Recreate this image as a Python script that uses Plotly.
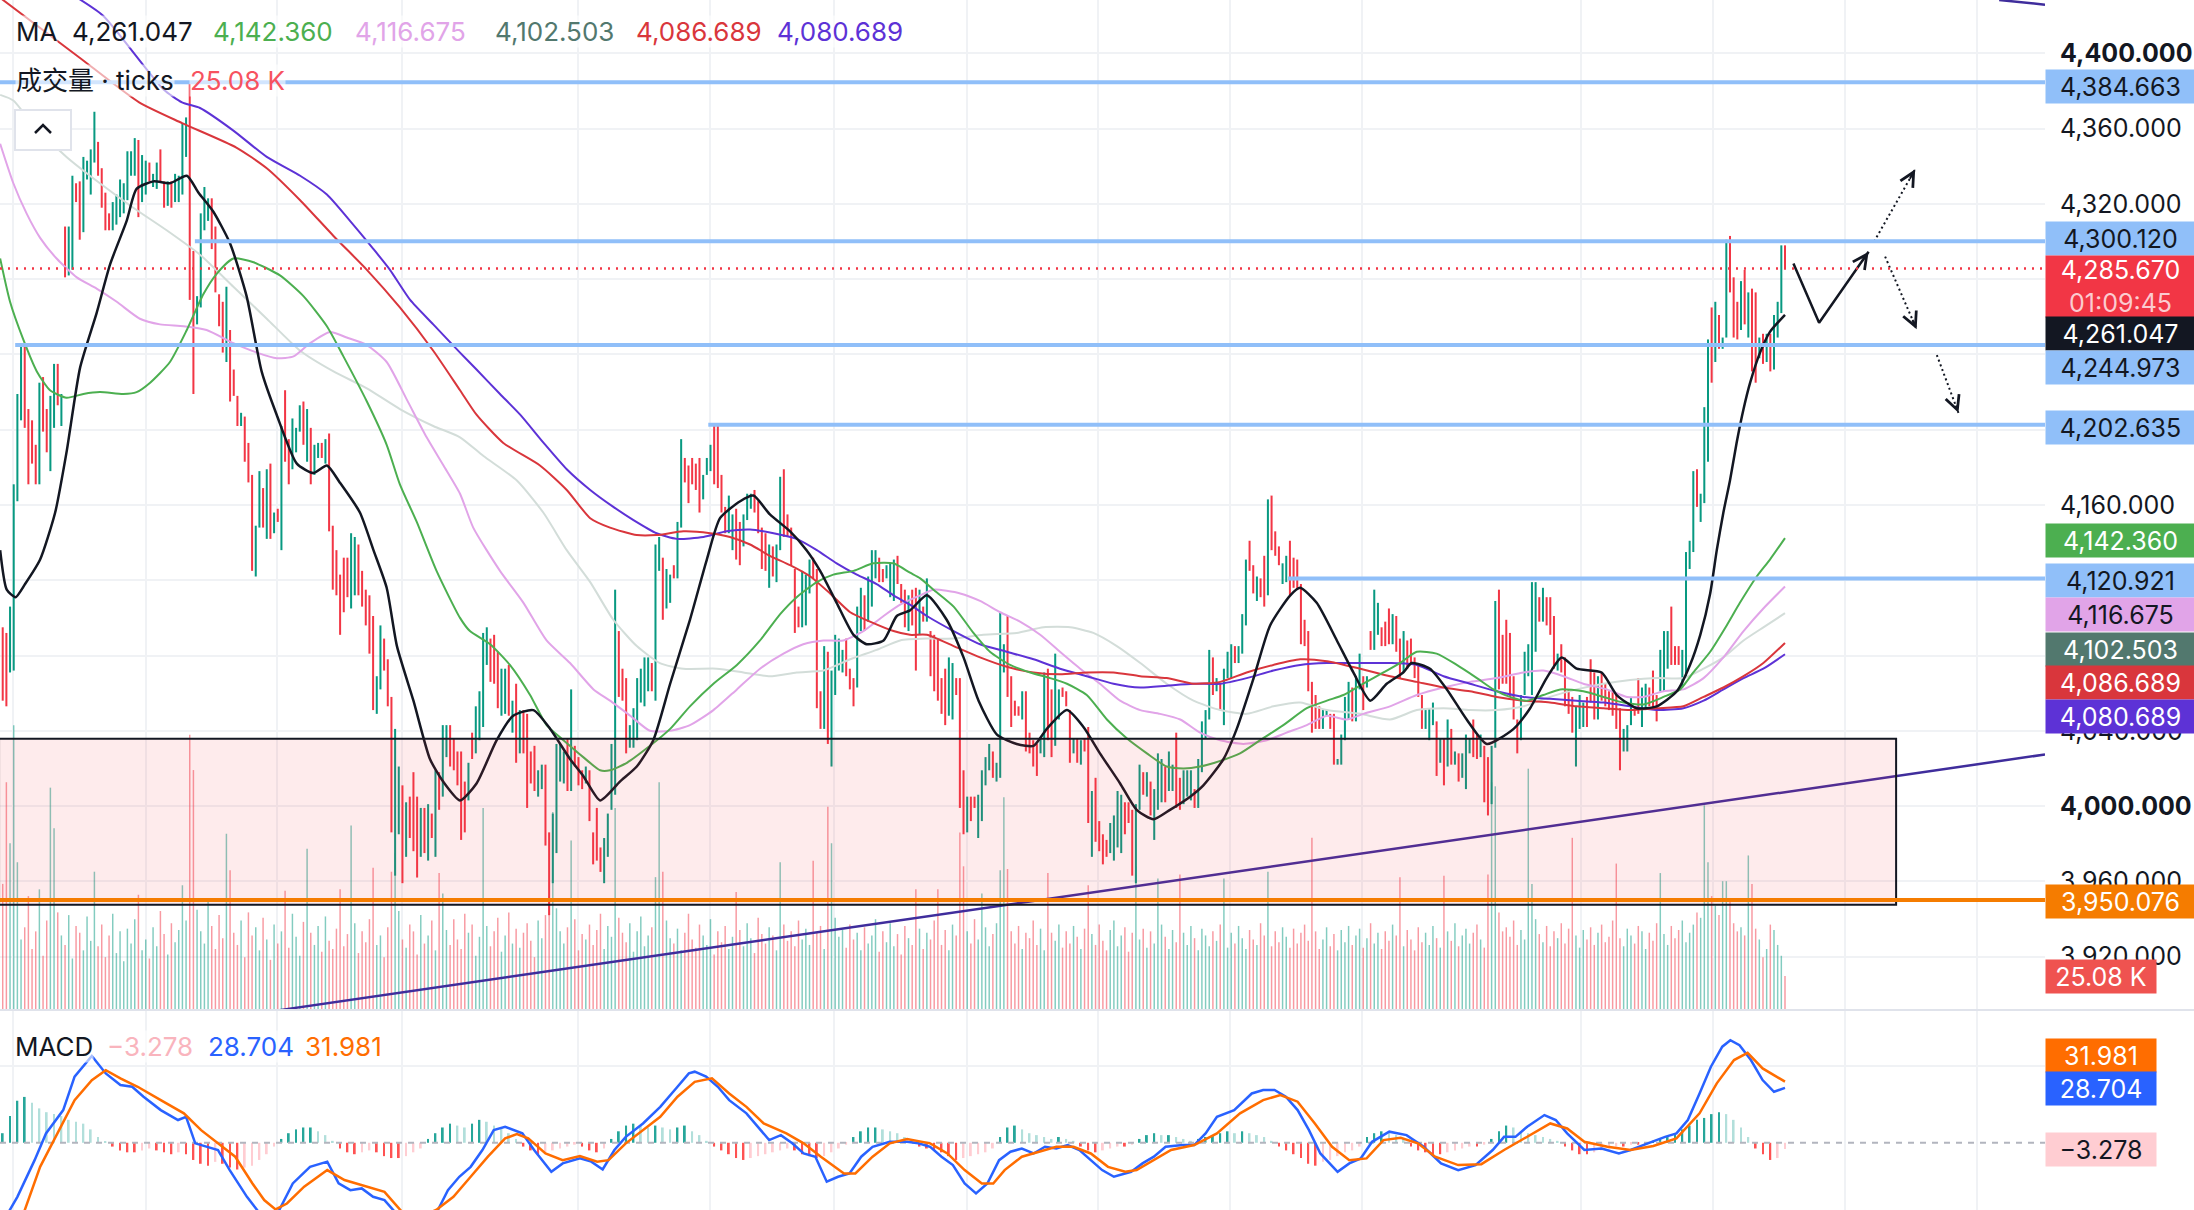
import plotly.graph_objects as go

# ---------------- candles (oldest first, one value per bar) ----------------
opens = [
    4095, 4092, 4071, 4072, 4162, 4205, 4245, 4211, 4205, 4192,
    4171, 4228, 4211, 4178, 4201, 4235, 4202, 4308, 4282, 4285,
    4331, 4332, 4305, 4333, 4325, 4342, 4353, 4339, 4326, 4315,
    4306, 4309, 4313, 4315, 4322, 4335, 4335, 4354, 4321, 4325,
    4342, 4329, 4328, 4349, 4332, 4319, 4332, 4321, 4321, 4325,
    4345, 4385, 4295, 4256, 4265, 4306, 4311, 4323, 4308, 4272,
    4268, 4236, 4253, 4232, 4218, 4202, 4207, 4193, 4176, 4122,
    4148, 4169, 4142, 4182, 4145, 4158, 4136, 4221, 4195, 4179,
    4188, 4199, 4215, 4183, 4201, 4176, 4185, 4193, 4182, 4198,
    4149, 4136, 4123, 4132, 4132, 4105, 4112, 4139, 4125, 4115,
    4112, 4101, 4049, 4062, 4089, 4078, 4058, 3963, 3985, 4011,
    3973, 4005, 4018, 4005, 3973, 3999, 3971, 3996, 3973, 4018,
    4005, 4026, 4043, 4036, 4029,
    4029, 4013, 4003, 4039, 4028, 4035, 4042, 4075, 4089, 4091,
    4082, 4048, 4049, 4075, 4039, 4065, 4028, 4051, 4049, 4029,
    4032, 4005, 4009, 4022, 3986, 3959, 3975, 4013, 4012, 4036,
    4008, 4032, 4026, 4019, 4012, 4019, 3986, 3999, 3978, 3959,
    3973, 3998, 4006, 4093, 4073, 4068, 4031, 4031, 4035, 4055,
    4053, 4061, 4076, 4056, 4125, 4132, 4105, 4108, 4128, 4121,
    4148, 4185, 4181, 4185, 4182, 4185, 4163, 4176, 4178, 4202,
    4202, 4176, 4159, 4145, 4136, 4158, 4151, 4138, 4152, 4158,
    4168, 4162, 4148, 4145, 4116, 4138, 4119, 4136, 4179, 4155,
    4148, 4126, 4106, 4095, 4096, 4113, 4132, 4126, 4061, 4041,
    4082, 4021, 4059, 4072, 4071, 4089, 4073, 4068, 4063, 4093,
    4112, 4098, 4106, 4121, 4132, 4126, 4121, 4111, 4109, 4133,
    4118, 4115, 4093,
    4115, 4116, 4091, 4106, 4098, 4093, 4091, 4089, 4068, 4073,
    4048, 4046, 4068, 4068, 4019, 3986, 4005, 4005, 3983, 3992,
    4011, 4019, 4029, 4013, 4015, 4071, 4101, 4069, 4056, 4053,
    4046, 4061, 4039, 4035, 4033, 4028, 4026, 4073, 4062, 4032,
    4046, 4063, 4061, 4051, 4028, 4036, 4022, 4036, 4042, 3973,
    4015, 3992, 3985, 3982, 3975, 3971, 3978, 3975, 4002, 4002,
    3998, 3959, 3998, 4018, 4005, 4013, 3982, 3998, 4002, 4021,
    4008, 4008, 4039, 4015, 4001, 4005, 4003, 4009, 3999, 4018,
    4036, 4046, 4079, 4061, 4065, 4043, 4068, 4068, 4085, 4076,
    4081, 4096, 4141, 4128, 4109, 4121, 4133, 4112, 4165, 4146,
    4138, 4118, 4119, 4141, 4132, 4131, 4118, 4099, 4093, 4066,
    4059, 4053, 4041, 4048, 4049, 4049, 4022, 4022, 4035, 4046,
    4063, 4045, 4062,
    4069, 4063, 4093, 4083, 4091, 4095, 4098, 4105, 4086, 4101,
    4089, 4071, 4088, 4089, 4079, 4075, 4059, 4041, 4035, 4043,
    4045, 4023, 4036, 4021, 4041, 4022, 4028, 4015, 4009, 4028,
    4046, 4038, 4026, 4032, 4026, 4001, 4031, 4115, 4091, 4099,
    4092, 4069, 4046, 4035, 4059, 4069, 4059, 4082, 4111, 4098,
    4111, 4111, 4101, 4072, 4086, 4079, 4062, 4058, 4021, 4041,
    4042, 4058, 4078, 4071, 4046, 4071, 4065, 4061, 4061, 4059,
    4052, 4029, 4029, 4043, 4053, 4068, 4042, 4051, 4063, 4072,
    4059, 4061, 4061, 4073, 4106, 4085, 4085, 4063, 4069, 4126,
    4135, 4179, 4151, 4161, 4183, 4265, 4236, 4261, 4243, 4249,
    4303, 4281, 4268, 4253, 4285, 4249, 4275, 4273, 4238, 4251,
    4236, 4251, 4232, 4249, 4262, 4298,
]
closes = [
    4056, 4053, 4106, 4171, 4219, 4245, 4201, 4171, 4182, 4171,
    4225, 4199, 4188, 4218, 4235, 4213, 4219, 4281, 4308, 4335,
    4321, 4301, 4345, 4343, 4349, 4369, 4335, 4318, 4306, 4306,
    4321, 4325, 4333, 4331, 4348, 4348, 4355, 4313, 4346, 4343,
    4332, 4336, 4342, 4332, 4318, 4332, 4318, 4336, 4335, 4363,
    4366, 4269, 4219, 4271, 4315, 4329, 4323, 4296, 4273, 4255,
    4241, 4276, 4215, 4218, 4202, 4209, 4183, 4172, 4125, 4149,
    4178, 4148, 4179, 4142, 4156, 4151, 4202, 4183, 4171, 4206,
    4201, 4213, 4192, 4211, 4171, 4192, 4193, 4185, 4195, 4146,
    4115, 4112, 4091, 4103, 4111, 4145, 4143, 4112, 4106, 4096,
    4081, 4051, 4069, 4096, 4072, 4053, 3986, 4041, 4021, 3959,
    4002, 3983, 3976, 3962, 3999, 3975, 4001, 3983, 4019, 3998,
    4043, 4043, 4021, 4019, 4011,
    3982, 3986, 4023, 4025, 4053, 4061, 4092, 4095, 4066, 4065,
    4052, 4073, 4073, 4048, 4056, 4023, 4051, 4028, 3999, 4012,
    4008, 4019, 4022, 3979, 3942, 3996, 4033, 4033, 4029, 4008,
    4062, 4021, 4011, 4009, 4021, 3992, 3969, 3971, 3965, 3983,
    3996, 4033, 4115, 4058, 4056, 4028, 4043, 4052, 4068, 4073,
    4079, 4079, 4061, 4139, 4143, 4099, 4126, 4123, 4121, 4151,
    4195, 4172, 4161, 4171, 4168, 4156, 4176, 4185, 4192, 4171,
    4169, 4156, 4145, 4165, 4155, 4131, 4128, 4155, 4166, 4166,
    4156, 4145, 4126, 4125, 4139, 4122, 4139, 4175, 4143, 4143,
    4128, 4092, 4095, 4125, 4123, 4131, 4121, 4052, 4041, 4085,
    4033, 4072, 4091, 4089, 4083, 4069, 4062, 4053, 4106, 4116,
    4093, 4122, 4136, 4136, 4119, 4119, 4128, 4129, 4131, 4118,
    4108, 4095, 4112,
    4096, 4072, 4115, 4098, 4121, 4069, 4061, 4056, 4049, 4043,
    4079, 4076, 4059, 3999, 3985, 4005, 3992, 3999, 4006, 4019,
    4026, 4033, 4015, 4023, 4103, 4086, 4058, 4042, 4048, 4048,
    4061, 4029, 4028, 4021, 4016, 4036, 4071, 4035, 4026, 4081,
    4062, 4058, 4053, 4023, 4036, 4023, 4035, 4029, 3991, 4008,
    3981, 3976, 3969, 3973, 3991, 3995, 4008, 4006, 3985, 3991,
    3963, 4001, 4022, 4006, 4018, 3995, 4009, 4028, 4025, 4002,
    4029, 4022, 3999, 3998, 4019, 4019, 4019, 3999, 4025, 4045,
    4051, 4083, 4059, 4068, 4051, 4073, 4082, 4086, 4076, 4085,
    4102, 4131, 4125, 4113, 4122, 4111, 4106, 4163, 4136, 4133,
    4128, 4129, 4133, 4112, 4116, 4115, 4086, 4085, 4061, 4039,
    4041, 4041, 4051, 4051, 4041, 4022, 4025, 4038, 4058, 4066,
    4045, 4069, 4081,
    4051, 4069, 4083, 4115, 4108, 4085, 4085, 4086, 4102, 4082,
    4068, 4093, 4073, 4076, 4068, 4058, 4041, 4051, 4052, 4055,
    4016, 4036, 4011, 4046, 4022, 4029, 4013, 4028, 4038, 4036,
    4026, 4025, 4038, 4002, 3995, 4032, 4109, 4062, 4065, 4065,
    4058, 4046, 4028, 4059, 4082, 4086, 4119, 4119, 4098, 4116,
    4096, 4091, 4073, 4081, 4071, 4053, 4049, 4039, 4053, 4059,
    4055, 4042, 4055, 4046, 4069, 4056, 4053, 4051, 4048, 4041,
    4019, 4041, 4043, 4058, 4048, 4049, 4063, 4065, 4053, 4052,
    4045, 4083, 4093, 4093, 4075, 4075, 4075, 4083, 4135, 4141,
    4178, 4159, 4166, 4212, 4248, 4225, 4268, 4243, 4249, 4301,
    4273, 4249, 4248, 4279, 4256, 4273, 4231, 4225, 4249, 4235,
    4251, 4231, 4261, 4268, 4298, 4285.67,
]
# volume per bar, thousands of ticks
volumes_k = [
    93, 168, 123, 210, 109, 52, 61, 84, 45, 58,
    89, 40, 66, 164, 134, 72, 55, 48, 70, 38,
    62, 57, 44, 69, 51, 102, 47, 63, 39, 55,
    71, 42, 58, 36, 60, 49, 67, 85, 44, 52,
    38, 61, 47, 73, 56, 41, 64, 50, 59, 92,
    66, 203, 177, 74, 58, 49, 81, 62, 45, 70,
    53, 130, 103, 57, 48, 66, 39, 72, 55, 61,
    44, 68, 52, 37, 63, 49, 58, 88, 46, 71,
    54, 40, 65, 119, 57, 48, 62, 43, 69, 51,
    45, 60, 89, 47, 56, 136, 64, 42, 58, 50,
    67, 105, 48, 55, 39, 61, 102, 116, 73, 52,
    46, 63, 58, 41, 70, 49, 55, 66, 44, 101,
    86, 59, 48, 67, 52, 45, 71, 57, 63, 40,
    54, 149, 62, 47, 58, 68, 43, 55, 72, 49,
    60, 46, 57, 64, 51, 39, 66, 53, 70, 84,
    146, 75, 58, 49, 61, 125, 67, 44, 56, 52,
    63, 48, 59, 71, 45, 62, 54, 149, 68, 57,
    50, 64, 43, 58, 69, 47, 55, 61, 98, 168,
    102, 66, 53, 49, 60, 44, 57, 71, 52, 46,
    63, 55, 48, 67, 41, 58, 50, 62, 45, 54,
    87, 59, 47, 64, 53, 42, 68, 56, 49, 61,
    55, 44, 109, 63, 51, 58, 47, 66, 52, 60,
    48, 110, 57, 62, 45, 150, 123, 68, 54, 59,
    46, 63, 52, 57, 44, 61, 49, 55, 67, 43,
    58, 50, 64, 47, 56, 41, 62, 53, 48, 89,
    60, 45, 57, 52, 66, 89, 48, 59, 44, 63,
    55, 131, 106, 58, 49, 67, 52, 86, 61, 47,
    56, 64, 103, 157, 104, 58, 49, 62, 45, 57,
    53, 66, 48, 60, 44, 101, 57, 51, 63, 46,
    58, 49, 62, 54, 45, 60, 92, 56, 48, 63,
    51, 44, 59, 66, 47, 55, 61, 43, 57, 106,
    52, 60, 46, 58, 49, 97, 63, 54, 45, 59,
    50, 100, 57, 48, 62, 53, 44, 60, 55, 47,
    58, 51, 63, 97, 46, 57, 49, 62, 53, 45,
    59, 52, 48, 64, 55, 102, 47, 58, 50, 61,
    54, 46, 60, 49, 57, 63, 51, 127, 58, 45,
    52, 61, 47, 56, 44, 59, 50, 62, 48, 55,
    60, 46, 53, 64, 49, 57, 45, 58, 51, 63,
    55, 98, 47, 59, 52, 44, 61, 50, 57, 48,
    62, 53, 46, 99, 58, 51, 64, 47, 55, 60,
    49, 57, 63, 52, 46, 100, 168, 165, 72, 58,
    61, 54, 66, 48, 59, 52, 178, 93, 67, 56,
    50, 62, 47, 58, 53, 64, 49, 60, 127, 55,
    46, 59, 52, 61, 48, 57, 63, 50, 54, 66,
    108, 53, 47, 60, 55, 49, 62, 58, 45, 57,
    51, 64, 101, 56, 48, 62, 53, 59, 66, 50,
    57, 63, 72, 68, 151, 109, 84, 77, 70, 95,
    95, 82, 64, 58, 61, 55, 114, 93, 60, 52,
    39, 45, 63, 59, 48, 40, 25.08,
]

# ---------------- moving averages (bar index, value) ----------------
ma_black_x = [-0.7, 1.1, 3.5, 6.1, 10.2, 14.3, 17.4, 21.1, 25.6, 29.3,
              33.8, 36.5, 41.1, 45.6, 50.2, 53.4, 57.4, 62.0, 66.5, 70.6,
              74.7, 80.2, 84.7, 88.4, 91.9, 97.4, 101.1, 104.7, 107.5, 112.0,
              116.5, 120.1, 124.7, 129.2, 134.7, 139.2, 144.7, 149.3, 154.7, 158.3,
              162.9, 168.3, 172.9, 177.4, 182.0, 187.4, 192.0, 195.6, 201.1, 204.7,
              209.2, 214.7, 219.2, 222.9, 227.4, 232.0, 235.6, 240.2, 243.8, 247.4,
              252.0, 257.4, 262.0, 266.1, 271.1, 276.5, 281.1, 284.7, 290.2, 294.7,
              299.2, 304.7, 309.2, 313.8, 318.3, 323.8, 327.4, 332.9, 336.5, 341.1,
              345.6, 351.1, 353.8, 358.3, 363.8, 368.3, 372.9, 377.4, 381.9, 384.2,
              389.2, 393.8, 399.2, 404.7, 412.0, 416.5, 421.0, 425.1, 429.2, 436.0,
              440.1, 445.6, 451.0, 456.5, 460.1, 462.9, 465.6, 467.4, 469.2, 471.0,
              472.8, 474.7, 476.5, 479.2, 481.9, 486]
ma_black_y = [4136, 4115, 4111, 4118, 4131, 4156, 4188, 4233, 4262, 4288,
              4311, 4328, 4332, 4331, 4335, 4326, 4316, 4299, 4271, 4231,
              4208, 4182, 4177, 4181, 4172, 4156, 4136, 4116, 4085, 4056,
              4025, 4013, 4003, 4012, 4035, 4048, 4051, 4041, 4025, 4016,
              4003, 4013, 4021, 4035, 4065, 4099, 4131, 4153, 4162, 4165,
              4155, 4146, 4136, 4125, 4108, 4091, 4086, 4088, 4101, 4104,
              4112, 4099, 4079, 4056, 4038, 4033, 4032, 4041, 4051, 4042,
              4028, 4012, 3998, 3993, 3998, 4005, 4011, 4025, 4041, 4068,
              4096, 4112, 4116, 4108, 4088, 4071, 4056, 4065, 4071, 4076,
              4073, 4062, 4046, 4033, 4041, 4052, 4068, 4079, 4073, 4071,
              4059, 4052, 4053, 4061, 4075, 4091, 4113, 4136, 4156, 4173,
              4193, 4211, 4225, 4241, 4252, 4261.047]

ma_green_x = [-0.7, 2.0, 5.6, 9.3, 12.9, 17.4, 22.0, 26.5, 32.9, 36.5,
              40.2, 45.6, 50.2, 54.7, 58.4, 62.9, 68.4, 75.6, 82.0, 88.4,
              92.9, 99.3, 104.7, 108.3, 112.9, 118.3, 124.7, 127.4, 132.9, 138.3,
              143.8, 148.3, 152.9, 158.3, 162.9, 165.6, 170.2, 176.5, 182.0, 187.4,
              193.8, 200.2, 206.5, 212.0, 216.5, 222.0, 226.5, 232.0, 237.4, 242.9,
              247.4, 250.2, 253.8, 259.3, 264.7, 269.2, 274.7, 280.2, 285.6, 290.2,
              295.6, 301.1, 306.5, 312.0, 317.4, 322.0, 326.5, 332.0, 337.4, 342.9,
              349.2, 355.6, 361.1, 365.6, 371.0, 376.5, 381.0, 385.6, 391.0, 396.5,
              402.0, 406.5, 411.0, 415.6, 420.1, 424.7, 431.0, 436.5, 442.0, 447.4,
              452.9, 457.4, 461.0, 465.6, 470.1, 473.7, 478.3, 481.9, 486]
ma_green_y = [4291, 4268, 4248, 4231, 4221, 4217, 4219, 4220, 4219, 4220,
              4225, 4236, 4253, 4272, 4283, 4291, 4289, 4282, 4271, 4255,
              4239, 4215, 4192, 4171, 4151, 4125, 4100, 4093, 4086, 4075,
              4059, 4043, 4035, 4026, 4019, 4019, 4023, 4032, 4041, 4053,
              4065, 4075, 4088, 4102, 4111, 4119, 4123, 4125, 4129, 4129,
              4124, 4121, 4115, 4106, 4092, 4082, 4075, 4071, 4068, 4065,
              4059, 4046, 4036, 4028, 4021, 4020, 4021, 4024, 4028, 4035,
              4043, 4052, 4056, 4059, 4065, 4071, 4076, 4082, 4081, 4075,
              4068, 4062, 4058, 4056, 4059, 4062, 4061, 4058, 4055, 4054,
              4058, 4062, 4071, 4082, 4096, 4108, 4122, 4131, 4142.36]

ma_pink_x = [-0.7, 2.9, 6.5, 10.2, 14.7, 20.2, 25.6, 31.1, 37.4, 42.9,
             49.3, 55.6, 62.9, 69.3, 74.7, 79.3, 83.8, 89.3, 93.8, 99.3,
             104.7, 110.2, 115.6, 120.2, 124.7, 128.3, 135.6, 142.0, 148.3, 154.7,
             161.1, 165.6, 171.1, 176.5, 182.0, 187.4, 193.8, 200.2, 206.5, 212.9,
             218.3, 223.8, 229.2, 234.7, 240.2, 244.7, 250.2, 253.8, 261.1, 266.5,
             272.0, 277.4, 282.9, 288.3, 293.8, 299.2, 304.7, 310.2, 315.6, 321.1,
             326.5, 332.0, 338.3, 344.7, 350.1, 355.6, 361.1, 366.5, 371.0, 378.3,
             385.6, 392.9, 400.1, 407.4, 414.7, 420.1, 425.6, 431.0, 437.4, 442.9,
             447.4, 452.9, 458.3, 463.8, 469.2, 474.7, 480.1, 486]
ma_pink_y = [4352, 4331, 4315, 4302, 4291, 4281, 4275, 4268, 4259, 4256,
             4255, 4253, 4246, 4241, 4238, 4239, 4246, 4252, 4249, 4245,
             4236, 4216, 4196, 4181, 4166, 4148, 4125, 4108, 4088, 4076,
             4062, 4056, 4048, 4040, 4040, 4043, 4051, 4062, 4073, 4081,
             4086, 4088, 4088, 4093, 4101, 4107, 4112, 4115, 4113, 4109,
             4103, 4098, 4091, 4082, 4073, 4065, 4056, 4051, 4049, 4046,
             4039, 4035, 4033, 4035, 4039, 4043, 4048, 4046, 4049, 4053,
             4059, 4063, 4066, 4068, 4071, 4072, 4069, 4065, 4062, 4058,
             4058, 4061, 4062, 4068, 4079, 4093, 4105, 4116.675]

ma_gray_x = [-0.7, 2.9, 8.3, 17.4, 26.5, 35.6, 44.7, 53.8, 62.9, 72.0,
             81.1, 90.2, 99.3, 108.3, 117.4, 124.7, 131.1, 140.2, 147.4, 153.8,
             160.2, 166.5, 172.9, 179.2, 185.6, 194.7, 202.0, 209.2, 216.5, 223.8,
             231.1, 238.3, 244.7, 252.0, 259.3, 267.4, 276.5, 283.8, 291.1, 297.4,
             303.8, 310.2, 317.4, 324.7, 332.0, 339.2, 346.5, 353.8, 361.1, 370.2,
             378.3, 385.6, 392.9, 400.1, 407.4, 414.7, 421.9, 429.2, 436.5, 443.8,
             451.0, 458.3, 463.8, 469.2, 474.7, 480.1, 486]
ma_gray_y = [4378, 4375, 4362, 4345, 4331, 4318, 4306, 4293, 4276, 4259,
             4242, 4231, 4222, 4211, 4202, 4196, 4186, 4173, 4156, 4136,
             4119, 4099, 4085, 4076, 4073, 4073, 4071, 4069, 4071, 4072,
             4078, 4083, 4088, 4089, 4089, 4091, 4092, 4095, 4095, 4092,
             4085, 4076, 4065, 4056, 4051, 4049, 4053, 4055, 4051, 4049,
             4046, 4051, 4052, 4051, 4051, 4053, 4058, 4062, 4065, 4067,
             4068, 4068, 4073, 4079, 4088, 4095, 4102.503]

ma_red_x = [-1, 20.8, 37.2, 48.9, 63.7, 72.0, 81.1, 90.2, 99.3, 108.3,
            117.4, 124.7, 129.2, 136.5, 146.5, 153.8, 160.2, 165.6, 172.9, 178.3,
            185.6, 192.9, 198.3, 203.8, 209.2, 214.7, 220.2, 225.6, 231.1, 236.5,
            242.9, 247.4, 252.0, 259.3, 266.5, 273.8, 281.1, 288.3, 295.6, 302.9,
            310.2, 317.4, 324.7, 332.0, 339.2, 346.5, 353.8, 361.1, 370.2, 378.3,
            385.6, 392.9, 400.1, 407.4, 414.7, 421.9, 429.2, 436.5, 443.8, 451.0,
            458.3, 463.8, 469.2, 474.7, 480.1, 486]
ma_red_y = [4430, 4398, 4374, 4363, 4350, 4339, 4322, 4303, 4285, 4265,
            4242, 4221, 4208, 4193, 4181, 4168, 4153, 4148, 4144, 4144,
            4146, 4145, 4143, 4139, 4133, 4128, 4122, 4113, 4103, 4098,
            4093, 4091, 4091, 4085, 4079, 4074, 4071, 4070, 4071, 4071,
            4069, 4068, 4065, 4066, 4071, 4075, 4078, 4077, 4073, 4069,
            4066, 4063, 4061, 4058, 4056, 4055, 4053, 4052, 4051, 4052,
            4053, 4058, 4063, 4069, 4076, 4086.689]

ma_purple_x = [20, 27.4, 43.8, 48.9, 53.8, 62.9, 72.0, 81.1, 88.4, 94.7,
               101.1, 105.6, 111.1, 117.4, 124.7, 129.2, 135.6, 141.1, 147.5, 153.8,
               160.2, 166.5, 172.0, 178.3, 183.8, 191.1, 197.4, 203.8, 210.2, 216.5,
               222.0, 227.4, 232.9, 238.3, 242.9, 247.4, 252.0, 259.3, 266.5, 273.8,
               281.1, 288.3, 295.6, 302.9, 310.2, 317.4, 324.7, 332.0, 339.2, 346.5,
               353.8, 361.1, 370.2, 378.3, 385.6, 392.9, 400.1, 407.4, 414.7, 421.9,
               429.2, 436.5, 443.8, 451.0, 458.3, 463.8, 469.2, 474.7, 480.1, 486]
ma_purple_y = [4430, 4420, 4381, 4374, 4371, 4359, 4345, 4335, 4325, 4311,
               4296, 4285, 4269, 4256, 4241, 4232, 4219, 4208, 4193, 4179,
               4168, 4159, 4152, 4145, 4142, 4143, 4146, 4147, 4145, 4142,
               4136, 4129, 4123, 4118, 4112, 4107, 4101, 4093, 4086, 4082,
               4078, 4073, 4069, 4065, 4063, 4064, 4065, 4065, 4068, 4072,
               4075, 4076, 4076, 4076, 4075, 4069, 4065, 4061, 4058, 4057,
               4056, 4055, 4053, 4051, 4052, 4056, 4062, 4068, 4073, 4080.689]

# ---------------- MACD ----------------
macd_x = [-0.7, 4.0, 8.7, 11.8, 16.5, 19.6, 24.3, 28.1, 32.1, 35.3,
          38.4, 43.1, 47.8, 50.0, 52.5, 55.6, 58.7, 61.9, 66.6, 69.7,
          74.4, 79.1, 83.8, 88.5, 91.6, 94.8, 97.9, 101.0, 104.1, 107.3,
          113.5, 118.2, 121.4, 124.5, 127.6, 130.8, 133.9, 137.0, 141.7, 144.9,
          149.6, 152.7, 157.4, 160.5, 163.6, 166.8, 169.9, 174.6, 179.3, 184.0,
          187.1, 188.7, 191.8, 195.0, 198.1, 202.8, 205.9, 209.0, 212.2, 215.3,
          218.4, 221.6, 224.7, 227.8, 230.9, 234.1, 237.2, 241.9, 246.6, 249.7,
          252.9, 256.0, 259.1, 262.3, 265.4, 268.5, 271.7, 274.8, 277.9, 281.1,
          284.2, 287.3, 290.4, 293.6, 296.7, 299.8, 303.0, 307.7, 310.8, 313.9,
          317.1, 321.8, 324.9, 328.0, 331.1, 335.8, 340.6, 343.7, 346.8, 349.9,
          353.1, 356.2, 359.3, 364.0, 367.2, 370.3, 373.4, 378.1, 382.8, 387.5,
          392.2, 396.9, 401.6, 406.3, 409.4, 412.5, 415.7, 420.4, 423.5, 426.6,
          431.3, 436.0, 440.7, 443.9, 448.6, 453.3, 456.4, 459.5, 462.7, 465.8,
          468.9, 471.1, 473.6, 476.7, 479.9, 483.0, 486]
macd_y = [-44, -28.3, -9.1, 4.9, 17.1, 34.6, 45.4, 36.3, 30.2, 29.3,
          24.1, 17.1, 11.9, 13.6, -0.3, -2.1, -3.8, -14.3, -28.3, -36,
          -39, -21.3, -12.6, -9.9, -21.3, -24.8, -23.9, -28.3, -30, -37,
          -42, -37, -24.8, -17.8, -12.6, -3.8, 6.6, 8.4, 4.9, -3.8,
          -15.2, -10.8, -8.2, -9.9, -14, -3.8, 3.1, 10.1, 18.8, 29.3,
          36.3, 37.2, 34.6, 29.3, 22.3, 15.4, 8.4, 1.4, 4.0, -0.3,
          -5.6, -7.3, -20.4, -17.8, -16.1, -7.3, -2.1, 0.5, 0.5, -0.3,
          -2.1, -7.3, -11.7, -21.3, -26.5, -21.3, -9.1, -4.7, -3.0, -5.6,
          -2.1, -3.0, -1.2, -3.8, -9.1, -14.3, -17.8, -15.2, -10.8, -7.3,
          -2.1, -1.2, -1.2, 4.9, 13.6, 17.1, 25.8, 27.6, 27.6, 24.1,
          17.1, 6.6, -5.6, -15.2, -10.8, -8.2, 0.5, 5.8, 4.0, -2.1,
          -10.8, -14.3, -11.7, -3.8, 3.1, 3.1, 8.4, 14.5, 11.9, 4.9,
          -3.8, -3.0, -5.6, -3.8, -0.3, 3.1, 4.9, 11.9, 25.8, 39.8,
          50.3, 53.7, 51.1, 43.3, 32.8, 26.7, 28.704]
signal_x = [0, 5.5, 10.2, 14.9, 19.6, 24.3, 28.1, 32.1, 36.8, 43.1,
            49.4, 54.1, 58.7, 63.4, 68.1, 71.3, 74.4, 77.5, 82.2, 88.5,
            93.2, 97.9, 104.1, 108.8, 113.5, 118.2, 122.9, 127.6, 132.3, 137.0,
            140.2, 143.3, 148.0, 152.7, 157.4, 162.1, 165.2, 169.9, 174.6, 179.3,
            184.0, 188.7, 193.4, 198.1, 202.8, 207.5, 213.7, 218.4, 223.1, 229.4,
            232.5, 237.2, 241.9, 246.6, 252.9, 257.6, 262.3, 267.0, 270.1, 273.2,
            277.9, 282.6, 287.3, 292.0, 296.7, 301.4, 306.1, 309.2, 313.9, 318.6,
            324.9, 331.1, 337.4, 343.7, 348.4, 353.1, 357.8, 362.5, 367.2, 371.9,
            376.5, 381.2, 385.9, 390.6, 396.9, 403.2, 409.4, 415.7, 422.0, 426.6,
            431.3, 437.6, 443.9, 450.1, 456.4, 462.7, 467.4, 472.1, 475.8, 479.9,
            486]
signal_y = [-50, -38, -12.6, 4.9, 22.3, 32.8, 38.0, 33.7, 29.3, 22.3,
            15.4, 6.6, -0.3, -7.3, -21.3, -30, -34.9, -31.8, -23, -14.3,
            -19.5, -22.2, -25.7, -36, -38.7, -35.2, -28.3, -17.8, -7.3, 2.3,
            4.5, 2.3, -5.6, -9.1, -7.0, -9.9, -9.1, -0.3, 6.6, 13.6,
            24.1, 31.9, 33.7, 25.8, 18.8, 10.1, 4.9, -0.3, -7.3, -16.1,
            -16.1, -7.3, -0.3, 1.9, -0.3, -5.6, -14.3, -21.3, -21.3, -14.3,
            -7.3, -4.7, -2.1, -2.1, -5.6, -12.6, -15.2, -14.3, -9.1, -3.8,
            -1.2, 4.9, 15.4, 22.3, 25.0, 21.5, 10.1, -2.1, -9.1, -8.2,
            1.4, 2.6, -0.3, -7.3, -11.7, -11.2, -3.8, 3.1, 10.1, 7.5,
            0.5, -2.1, -3.8, -1.7, 2.3, 15.4, 31.1, 43.3, 47.1, 38.9,
            31.981]
# histogram, every second bar
hist_x = list(range(0, 487, 2))
hist_y = [5, 14, 22, 24, 21, 18, 16, 15, 14, 12, 11, 10, 7, 3, 0.5,
          -2, -4, -5, -5, -4, -3, -4, -5, -6, -5, -6, -9, -11, -12, -10, -11, -13, -14, -13, -12, -9, -6, -2,
          2, 5, 7, 8, 8, 6, 4, 1,
          -3, -5, -6, -5, -4, -5, -7, -8, -8, -7, -5, -3,
          2, 5, 8, 10, 9, 8, 10, 12, 11, 9, 8, 5, 2,
          -2, -4, -6, -5, -4, -3, -2, -1, -2, -4, -5, -3,
          2, 6, 9, 10, 9, 8, 9, 8, 7, 8, 9, 6, 4, 1,
          -2, -4, -6, -8, -9, -8, -7, -6, -5, -4, -3, -4, -6, -7, -8, -7, -5, -3, -1,
          3, 6, 8, 8, 7, 6, 5, 3, 1,
          -2, -3, -4, -5, -7, -9, -8, -7, -6, -5, -3,
          3, 8, 9, 7, 5, 4, 3, 2, 3, 2, 1,
          -2, -4, -5, -4, -3, -2, -2, -1,
          2, 4, 5, 4, 4, 3, 2, 1, 2, 3, 4, 5, 6, 5, 6, 5, 4, 3, 1,
          -2, -4, -6, -8, -11, -12, -10, -9, -7, -5, -4, -2,
          3, 5, 6, 5, 4, 2,
          -2, -4, -5, -6, -6, -5, -4, -3, -2, -2, -1,
          2, 6, 9, 8, 6, 5, 4, 3, 2, 1,
          -2, -4, -6, -6, -5, -4, -3, -2, -2, -1, -1, -1,
          1, 2, 3, 5, 7, 9, 12, 13, 15, 16, 15, 12, 8, 3,
          -3, -6, -9, -8, -3.278]

# ---------------- drawings ----------------
level_prices = [4384.663, 4300.120, 4244.973, 4202.635, 4120.921]
level_starts = [-1, 52.4, 3.4, 192.4, 350.5]
last_price = 4285.670
support_price = 3950.076
zone_top, zone_bottom, zone_end = 4035.7, 3947.6, 516.3
trend_x, trend_y = [75, 556.9], [3891.4, 4027.4]
trend2_x, trend2_y = [544.4, 556.9], [4428.4, 4425.9]
path_x, path_y = [488.3, 495.3, 508.8], [4288.4, 4256.9, 4294.6]
up_x, up_y = [510.3, 521.5], [4300.0, 4338.4]
down1_x, down1_y = [513.3, 521.9], [4292.0, 4253.4]
down2_x, down2_y = [527.4, 533.3], [4239.7, 4209.0]
grid_x = [2.8, 39.1, 74.8, 108.9, 156.9, 192.9, 226.7, 263.0, 298.7, 334.7,
          370.7, 430.4, 466.4, 502.4, 538.4]
# price labels left visible by the axis boxes
shown_ticks = [4400, 4360, 4320, 4160, 4040, 4000, 3960, 3920]

UP, DOWN = "#089981", "#f23645"
FONT = "Inter, 'Noto Sans CJK SC', sans-serif"
INK = "#131722"
GRID = "#f0f2f5"
W, H, AXW = 2194, 1210, 149
PW = W - AXW
SPLIT = 200 / H
XR = [-0.74, 556.9]

idx = list(range(len(closes)))
bar_colors = [UP if c >= o else DOWN for o, c in zip(opens, closes)]
vol_colors = ["rgba(8,153,129,0.5)" if c >= o else "rgba(242,54,69,0.5)"
              for o, c in zip(opens, closes)]

fig = go.Figure()

# volume on the base axis (drawn first, behind the price)
fig.add_trace(go.Bar(x=idx, y=[v * 1000 for v in volumes_k], width=0.4,
                     marker=dict(color=vol_colors, line_width=0),
                     xaxis="x", yaxis="y", hoverinfo="skip"))

# candles
fig.add_trace(go.Bar(x=idx, y=[c - o for o, c in zip(opens, closes)], base=opens,
                     width=0.55, marker=dict(color=bar_colors, line_width=0),
                     xaxis="x", yaxis="y3", hoverinfo="skip"))

for xs, ys, col, w in [
    (ma_gray_x, ma_gray_y, "#d3ddd9", 2),
    (ma_pink_x, ma_pink_y, "#e1a4e8", 2),
    (ma_purple_x, ma_purple_y, "#5d32d6", 2),
    (ma_red_x, ma_red_y, "#d9363c", 2),
    (ma_green_x, ma_green_y, "#4caf50", 2),
    (ma_black_x, ma_black_y, INK, 2.5),
]:
    fig.add_trace(go.Scatter(x=xs, y=ys, mode="lines", xaxis="x", yaxis="y3",
                             line=dict(color=col, width=w, shape="spline", smoothing=0.6),
                             hoverinfo="skip"))

# trend lines and projection drawings
fig.add_trace(go.Scatter(x=trend_x, y=trend_y, mode="lines", xaxis="x", yaxis="y3",
                         line=dict(color="#3f2d9c", width=2.5), hoverinfo="skip"))
fig.add_trace(go.Scatter(x=trend2_x, y=trend2_y, mode="lines", xaxis="x", yaxis="y3",
                         line=dict(color="#3f2d9c", width=2.5), hoverinfo="skip"))
fig.add_trace(go.Scatter(x=path_x, y=path_y, mode="lines", xaxis="x", yaxis="y3",
                         line=dict(color=INK, width=2.5), hoverinfo="skip"))
for xs, ys in [(up_x, up_y), (down1_x, down1_y), (down2_x, down2_y)]:
    fig.add_trace(go.Scatter(x=xs, y=ys, mode="lines", xaxis="x", yaxis="y3",
                             line=dict(color=INK, width=2, dash="2px,3px"), hoverinfo="skip"))

# MACD
hist_colors = []
prev = 0
for v in hist_y:
    if v >= 0:
        hist_colors.append("#26a69a" if v >= prev else "#b2dfdb")
    else:
        hist_colors.append("#ff5252" if v <= prev else "#ffcdd2")
    prev = v
fig.add_trace(go.Bar(x=hist_x, y=hist_y, width=0.5, marker=dict(color=hist_colors, line_width=0),
                     xaxis="x2", yaxis="y2", hoverinfo="skip"))
fig.add_trace(go.Scatter(x=XR, y=[0, 0], mode="lines", xaxis="x2", yaxis="y2",
                         line=dict(color="#b2b5be", width=2, dash="6px,6px"), hoverinfo="skip"))
fig.add_trace(go.Scatter(x=macd_x, y=macd_y, mode="lines", xaxis="x2", yaxis="y2",
                         line=dict(color="#2962ff", width=2.5), hoverinfo="skip"))
fig.add_trace(go.Scatter(x=signal_x, y=signal_y, mode="lines", xaxis="x2", yaxis="y2",
                         line=dict(color="#ff6d00", width=2.5), hoverinfo="skip"))

shapes = []
shapes.append(dict(type="rect", xref="x", yref="y3", x0=-1, x1=zone_end, y0=zone_bottom,
                   y1=zone_top, fillcolor="rgba(242,54,69,0.1)",
                   line=dict(color=INK, width=2), layer="above"))
for p, s in zip(level_prices, level_starts):
    shapes.append(dict(type="line", xref="x", yref="y3", x0=s, x1=XR[1], y0=p, y1=p,
                       line=dict(color="#90bff9", width=4), layer="above"))
shapes.append(dict(type="line", xref="x", yref="y3", x0=XR[0], x1=XR[1], y0=last_price, y1=last_price,
                   line=dict(color=DOWN, width=2.5, dash="2px,6px"), layer="above"))
shapes.append(dict(type="line", xref="x", yref="y3", x0=XR[0], x1=XR[1], y0=support_price,
                   y1=support_price, line=dict(color="#f57c00", width=4), layer="above"))
shapes.append(dict(type="line", xref="paper", yref="paper", x0=0, x1=W / PW, y0=SPLIT, y1=SPLIT,
                   line=dict(color="#e0e3eb", width=2), layer="above"))
# collapse button
shapes.append(dict(type="rect", xref="paper", yref="paper", x0=15 / PW, x1=71 / PW,
                   y0=1 - 150 / H, y1=1 - 110 / H, fillcolor="white",
                   line=dict(color="#e0e3eb", width=2), layer="above"))
shapes.append(dict(type="path", xref="paper", yref="paper",
                   path=f"M {35 / PW},{1 - 133 / H} L {43 / PW},{1 - 125 / H} L {51 / PW},{1 - 133 / H}",
                   line=dict(color=INK, width=2.5), layer="above"))

ann = []


def text_at(x_px, y_px, txt, col, size=26):
    ann.append(dict(xref="paper", yref="paper", x=x_px / PW, y=1 - y_px / H, xanchor="left",
                    yanchor="middle", text=txt, showarrow=False,
                    font=dict(family=FONT, size=size, color=col),
                    bgcolor="rgba(255,255,255,0.6)", borderpad=0))


text_at(15, 31, "MA", INK)
for xp, v, col in [(71, ma_black_y[-1], INK), (212, ma_green_y[-1], "#4caf50"),
                   (354, ma_pink_y[-1], "#e1a4e8"), (494, ma_gray_y[-1], "#52786e"),
                   (635, ma_red_y[-1], "#d9363c"), (776, ma_purple_y[-1], "#5d32d6")]:
    text_at(xp, 31, f"{v:,.3f}", col)
text_at(15, 80, "成交量 · ticks", INK)
text_at(189, 80, f"{volumes_k[-1]:.2f} K", "#f7525f")
text_at(14, 1046, "MACD", INK)
text_at(106, 1046, f"{hist_y[-1]:.3f}".replace("-", "−"), "#f9b4bd")
text_at(207, 1046, f"{macd_y[-1]:.3f}", "#2962ff")
text_at(304, 1046, f"{signal_y[-1]:.3f}", "#ff6d00")


def box(yref, val, txt, bg, fg, shift=0, width=AXW, height=33, anchor="middle"):
    ann.append(dict(xref="paper", x=1, xanchor="left", yref=yref, y=val, yanchor=anchor,
                    yshift=shift, text=txt, showarrow=False, bgcolor=bg, width=width,
                    height=height, borderpad=0, align="center",
                    font=dict(family=FONT, size=25, color=fg)))


box("y3", level_prices[0], f"{level_prices[0]:,.3f}", "#90bff9", INK, -4)
box("y3", level_prices[1], f"{level_prices[1]:,.3f}", "#90bff9", INK, 3)
box("y3", last_price, f"{last_price:,.3f}<br><span style='color:rgba(255,255,255,0.75)'>01:09:45</span>",
    DOWN, "white", 13.5, height=61, anchor="top")
box("y3", ma_black_y[-1], f"{ma_black_y[-1]:,.3f}", INK, "white", -19)
box("y3", level_prices[2], f"{level_prices[2]:,.3f}", "#90bff9", INK, -22.5)
box("y3", level_prices[3], f"{level_prices[3]:,.3f}", "#90bff9", INK, -3)
box("y3", ma_green_y[-1], f"{ma_green_y[-1]:,.3f}", "#4caf50", "white", -2)
box("y3", level_prices[4], f"{level_prices[4]:,.3f}", "#90bff9", INK, -2)
box("y3", ma_pink_y[-1], f"{ma_pink_y[-1]:,.3f}", "#e1a4e8", INK, -27.5)
box("y3", ma_gray_y[-1], f"{ma_gray_y[-1]:,.3f}", "#52786e", "white", -36)
box("y3", ma_red_y[-1], f"{ma_red_y[-1]:,.3f}", "#d9363c", "white", -39.6)
box("y3", ma_purple_y[-1], f"{ma_purple_y[-1]:,.3f}", "#5d32d6", "white", -62.4)
box("y3", support_price, f"{support_price:,.3f}", "#f57c00", "white", -1.6)
box("y", volumes_k[-1] * 1000, f"{volumes_k[-1]:.2f} K", "#ef5350", "white", 0, width=110)
box("y2", signal_y[-1], f"{signal_y[-1]:.3f}", "#ff6d00", "white", 26.6, width=110)
box("y2", macd_y[-1], f"{macd_y[-1]:.3f}", "#2962ff", "white", -1, width=110)
box("y2", hist_y[-1], f"{hist_y[-1]:.3f}".replace("-", "−"), "#ffcdd2", INK, 0, width=110)


def head(xs, ys):
    x0, x1, y0, y1 = xs[-2], xs[-1], ys[-2], ys[-1]
    ann.append(dict(x=x1, y=y1, ax=x1 - 0.15 * (x1 - x0), ay=y1 - 0.15 * (y1 - y0),
                    xref="x", yref="y3", axref="x", ayref="y3", text="", showarrow=True,
                    arrowhead=5, arrowsize=1.4, arrowwidth=2, arrowcolor=INK, standoff=0))


for xs, ys in [(path_x, path_y), (up_x, up_y), (down1_x, down1_y), (down2_x, down2_y)]:
    head(xs, ys)

price_ticks = list(range(3920, 4401, 40))
tick_text = []
for v in price_ticks:
    if v not in shown_ticks:
        tick_text.append("")
    elif v in (4000, 4400):
        tick_text.append(f"<b>{v:,.3f}</b>")
    else:
        tick_text.append(f"{v:,.3f}")

fig.update_layout(
    width=W, height=H, margin=dict(l=0, r=AXW, t=0, b=0),
    paper_bgcolor="white", plot_bgcolor="white", showlegend=False,
    barmode="overlay", hovermode=False,
    font=dict(family=FONT, size=25, color=INK),
    xaxis=dict(domain=[0, 1], range=XR, anchor="y", showticklabels=False, ticks="",
               tickvals=grid_x, showgrid=True, gridcolor=GRID, gridwidth=2, zeroline=False),
    xaxis2=dict(domain=[0, 1], range=XR, anchor="y2", matches="x", showticklabels=False,
                ticks="", tickvals=grid_x, showgrid=True, gridcolor=GRID, gridwidth=2, zeroline=False),
    yaxis=dict(domain=[SPLIT, 1], range=[0, 745000], visible=False, showgrid=False),
    yaxis3=dict(overlaying="y", side="right", range=[3891.6, 4428.4], tickvals=price_ticks,
                ticktext=tick_text, showgrid=True, gridcolor=GRID, gridwidth=2, zeroline=False,
                ticks="", ticklabelstandoff=14, tickfont=dict(family=FONT, size=25, color=INK)),
    yaxis2=dict(domain=[0, SPLIT], range=[-35.2, 69.5], side="right", tickvals=[40],
                showticklabels=False, showgrid=True, gridcolor=GRID, gridwidth=2,
                zeroline=False, ticks=""),
    shapes=shapes, annotations=ann,
)

# the page body keeps its default 8px margin otherwise, which shifts the chart
fig.write_html("out.html", config={"displayModeBar": False},
               post_script="document.body.style.margin='0';document.body.style.overflow='hidden';")
